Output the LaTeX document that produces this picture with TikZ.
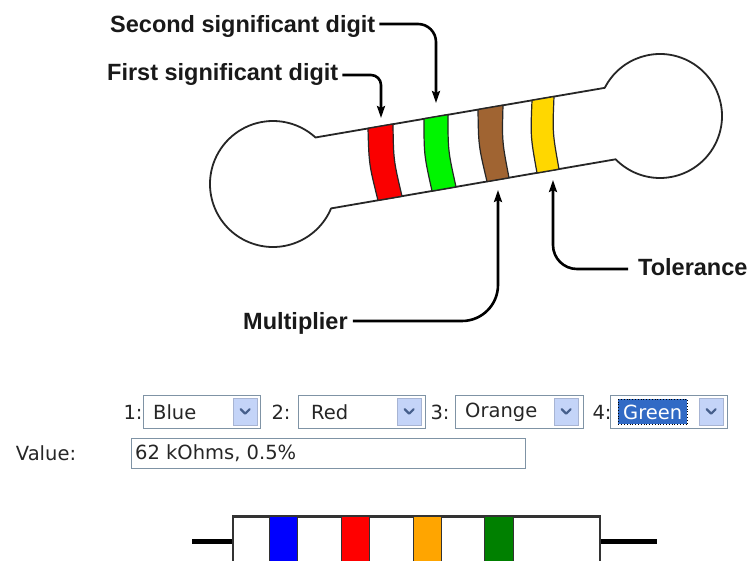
\documentclass[tikz,border=0pt]{standalone}
\usepackage{fontspec}
\setmainfont{Liberation Sans}
\newfontfamily\formfont{DejaVu Sans}
\usetikzlibrary{arrows.meta,calc}

\definecolor{bandred}{RGB}{250,0,0}
\definecolor{bandgreen}{RGB}{0,245,0}
\definecolor{bandbrown}{RGB}{160,100,50}
\definecolor{bandyellow}{RGB}{255,215,0}
\definecolor{fieldgray}{RGB}{127,147,165}
\definecolor{btnblue}{RGB}{196,212,248}
\definecolor{chevblue}{RGB}{70,95,140}
\definecolor{selblue}{RGB}{49,106,197}
\definecolor{ohmblue}{RGB}{0,0,255}
\definecolor{ohmred}{RGB}{255,0,0}
\definecolor{ohmorange}{RGB}{255,165,0}
\definecolor{ohmgreen}{RGB}{0,128,0}

\begin{document}
\begin{tikzpicture}[x=1pt,y=-1pt,
  outline/.style={draw=black!85,line width=1.8pt,line join=round},
  bandshape/.style={draw=black!85,line width=1.2pt},
  pointer/.style={line width=2.6pt,-{Stealth[length=12pt,width=8pt,inset=2pt]}},
  lbl/.style={font=\fontsize{23.5}{28}\selectfont\bfseries,inner sep=0pt,anchor=base west,text=black!90},
  formtxt/.style={font=\formfont\fontsize{19.5}{23}\selectfont,inner sep=0pt,text=black!85},
  field/.style={draw=fieldgray,fill=white,line width=1pt,inner sep=0pt,anchor=north west},
  btn/.style={fill=btnblue,draw=btnblue!85!black,line width=0.4pt,inner sep=0pt,anchor=north west,
              minimum width=24pt,minimum height=27pt},
  chev/.style={draw=chevblue,line width=2.2pt,line cap=round,line join=round},
  lead/.style={line width=5pt},
  ohmband/.style={draw=black!80,line width=1pt}]

\useasboundingbox (0,0) rectangle (748,561);
\clip (0,0) rectangle (748,561);
\fill[white] (0,0) rectangle (748,561);

% ---------- enlarged resistor: two bulbs joined by a slanted body ----------
\coordinate (lc) at (273,184);
\coordinate (rc) at (660,116);
\draw[outline,fill=white]
  ($(lc)+(-47.6:63)$) -- ($(rc)+(207:62)$)
  arc[start angle=207,end angle=495.7,radius=62]
  -- ($(lc)+(22.8:63)$)
  arc[start angle=22.8,end angle=312.4,radius=63] -- cycle;

% colour bands (edges bow slightly to the left)
\path[bandshape,fill=bandred]
  (368,128.4) .. controls (369,164.4) .. (378,200.3) -- (402,196.2)
  .. controls (393.5,160.2) .. (393,124.1) -- cycle;
\path[bandshape,fill=bandgreen]
  (424,118.8) .. controls (424,154.9) .. (432,191.0) -- (456,186.8)
  .. controls (448,150.8) .. (448,114.7) -- cycle;
\path[bandshape,fill=bandbrown]
  (478,109.6) .. controls (478.5,145.6) .. (487,181.5) -- (509,177.7)
  .. controls (502,141.5) .. (503,105.3) -- cycle;
\path[bandshape,fill=bandyellow]
  (532,100.4) .. controls (530.5,136.7) .. (537,172.9) -- (559,169.1)
  .. controls (552.5,132.9) .. (554,96.6) -- cycle;

% ---------- labels and pointers ----------
\node[lbl] (second) at (110,33) {Second significant digit};
\node[lbl] (first) at (107,81) {First significant digit};
\node[lbl] (mult) at (243,330) {Multiplier};
\node[lbl] (tol) at (638,276) {Tolerance};

\coordinate (tipA) at (381,118);
\coordinate (tipB) at (436,103);
\coordinate (tipC) at (498,190);
\coordinate (tipD) at (553,180);

\draw[pointer,rounded corners=10pt] ($(first.base east)+(4,-6)$) -| (tipA);
\draw[pointer,rounded corners=18pt] ($(second.base east)+(4,-9)$) -| (tipB);
\draw[pointer,rounded corners=36pt] ($(mult.base east)+(5,-9)$) -| (tipC);
\draw[pointer,rounded corners=24pt] ($(tol.base west)+(-10,-7)$) -| (tipD);

% ---------- colour selectors ----------
\node[formtxt] (n1) at (133,412) {1:};
\node[field,minimum width=117pt,minimum height=33pt] (dd1) at (143,395) {};
\node[btn] (b1) at (233,398) {};
\node[formtxt,anchor=west] (t1) at (153,412) {Blue};

\node[formtxt] (n2) at (281,412) {2:};
\node[field,minimum width=127pt,minimum height=33pt] (dd2) at (298,395) {};
\node[btn] (b2) at (397,398) {};
\node[formtxt,anchor=west] (t2) at (311,412) {Red};

\node[formtxt] (n3) at (440,412) {3:};
\node[field,minimum width=128pt,minimum height=33pt] (dd3) at (455,395) {};
\node[btn] (b3) at (554,398) {};
\node[formtxt,anchor=west] (t3) at (465,412) {Orange};

\node[formtxt] (n4) at (602,412) {4:};
\node[field,minimum width=117pt,minimum height=33pt] (dd4) at (610,395) {};
\node[btn] (b4) at (699,398) {};
\node[fill=selblue,draw=black,dotted,line width=0.8pt,anchor=north west,inner sep=0pt,
      minimum width=69pt,minimum height=25pt] (sel) at (618,399) {};
\node[formtxt,anchor=west,text=white] (t4) at (623,412) {Green};

\foreach \b in {b1,b2,b3,b4}{
  \draw[chev] ($(\b.center)+(-4.5,-2.5)$) -- ($(\b.center)+(0,2)$) -- ($(\b.center)+(4.5,-2.5)$);
}

% ---------- computed value ----------
\node[formtxt] (vl) at (46,453) {Value:};
\node[field,minimum width=394pt,minimum height=30pt] (vbox) at (131,438) {};
\node[formtxt,anchor=west] (vtxt) at (135,453) {62 kOhms, 0.5\%};

% ---------- small resistor symbol ----------
\node[draw=black!80,line width=2pt,fill=white,anchor=north west,inner sep=0pt,
      minimum width=367pt,minimum height=80pt] (body) at (232,516) {};
\coordinate (leadL) at (192,542);
\coordinate (leadR) at (657,542);
\draw[lead] (leadL) -- (leadL -| body.west);
\draw[lead] (body.east |- leadR) -- (leadR);
\path[ohmband,fill=ohmblue]   (269,516) rectangle (297,600);
\path[ohmband,fill=ohmred]    (341,516) rectangle (369,600);
\path[ohmband,fill=ohmorange] (413,516) rectangle (441,600);
\path[ohmband,fill=ohmgreen]  (484,516) rectangle (513,600);
\draw[draw=black!80,line width=2pt] (body.north west) -- (body.north east);
\end{tikzpicture}
\end{document}
